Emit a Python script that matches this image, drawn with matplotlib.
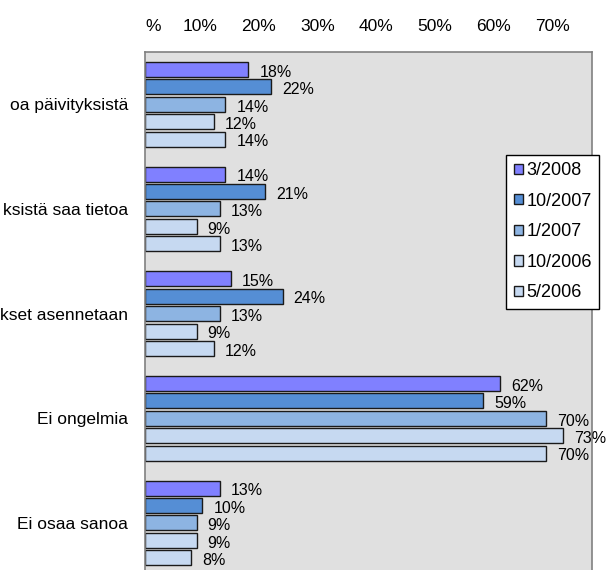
import matplotlib
matplotlib.use("Agg")
import matplotlib.pyplot as plt
import numpy as np

plt.rcParams["font.family"] = ["Liberation Sans", "DejaVu Sans"]

# category labels (cut off at the left edge in the source picture)
categories = ["oa päivityksistä", "ksistä saa tietoa", "kset asennetaan",
              "Ei ongelmia", "Ei osaa sanoa"]
series = ["3/2008", "10/2007", "1/2007", "10/2006", "5/2006"]
colors = ["#8080FF", "#558ED5", "#8DB4E2", "#C6D9F1", "#C6D9F1"]

v_2008_03 = [18, 14, 15, 62, 13]
v_2007_10 = [22, 21, 24, 59, 10]
v_2007_01 = [14, 13, 13, 70, 9]
v_2006_10 = [12, 9, 9, 73, 9]
v_2006_05 = [14, 13, 12, 70, 8]
values = [v_2008_03, v_2007_10, v_2007_01, v_2006_10, v_2006_05]

xticks = [0, 10, 20, 30, 40, 50, 60, 70]
xticklabels = ["%", "10%", "20%", "30%", "40%", "50%", "60%", "70%"]

fig = plt.figure(figsize=(6.07, 5.70), dpi=100)
ax = fig.add_axes([145 / 607, 0.0, (592 - 145) / 607, 1 - 52 / 570])
ax.set_facecolor("#E0E0E0")

slots = 6
for j, (name, vals, col) in enumerate(zip(series, values, colors)):
    y = np.arange(len(categories)) * slots + j
    ax.barh(y, vals, height=0.86, color=col, edgecolor="#1a1a1a",
            linewidth=1.0, label=name)
    for yi, v in zip(y, vals):
        ax.annotate(f"{v}%", (v, yi), xytext=(8, -2), textcoords="offset points",
                    ha="left", va="center", fontsize=11.5)

ax.set_xlim(0, 78)
ax.set_ylim(28.7, -1.0)
# the "%" at zero sits on the frame corner, the rest on a slightly wider scale
ax.set_xticks(xticks[:1])
ax.set_xticklabels(xticklabels[:1], fontsize=12.5)
ax.tick_params(axis="x", bottom=False, labelbottom=False, top=False,
               labeltop=True, length=0, pad=13)
ax.get_xticklabels()[0].set_ha("left")
ax.set_yticks(np.arange(len(categories)) * slots + 2)
ax.set_yticklabels(categories, fontsize=12.5)
ax.tick_params(axis="y", length=0, pad=12)
for side in ["top", "right", "left"]:
    ax.spines[side].set_color("#808080")
    ax.spines[side].set_linewidth(1.2)
ax.spines["bottom"].set_visible(False)

top = ax.secondary_xaxis("top", functions=(lambda x: 0.9747 * x + 0.68,
                                           lambda t: (t - 0.68) / 0.9747))
top.set_xticks(xticks[1:])
top.set_xticklabels(xticklabels[1:], fontsize=12.5)
top.tick_params(length=0, pad=13)
top.spines["top"].set_visible(False)

leg = ax.legend(loc="upper right", bbox_to_anchor=(599 / 607, 1 - 155 / 570),
                bbox_transform=fig.transFigure, frameon=True, fancybox=False,
                edgecolor="black", framealpha=1, fontsize=13,
                handlelength=0.5, handleheight=0.5, handletextpad=0.2,
                labelspacing=0.75, borderpad=0.4, borderaxespad=0)
leg.get_frame().set_linewidth(1.0)

fig.savefig("out.png", dpi=100)
